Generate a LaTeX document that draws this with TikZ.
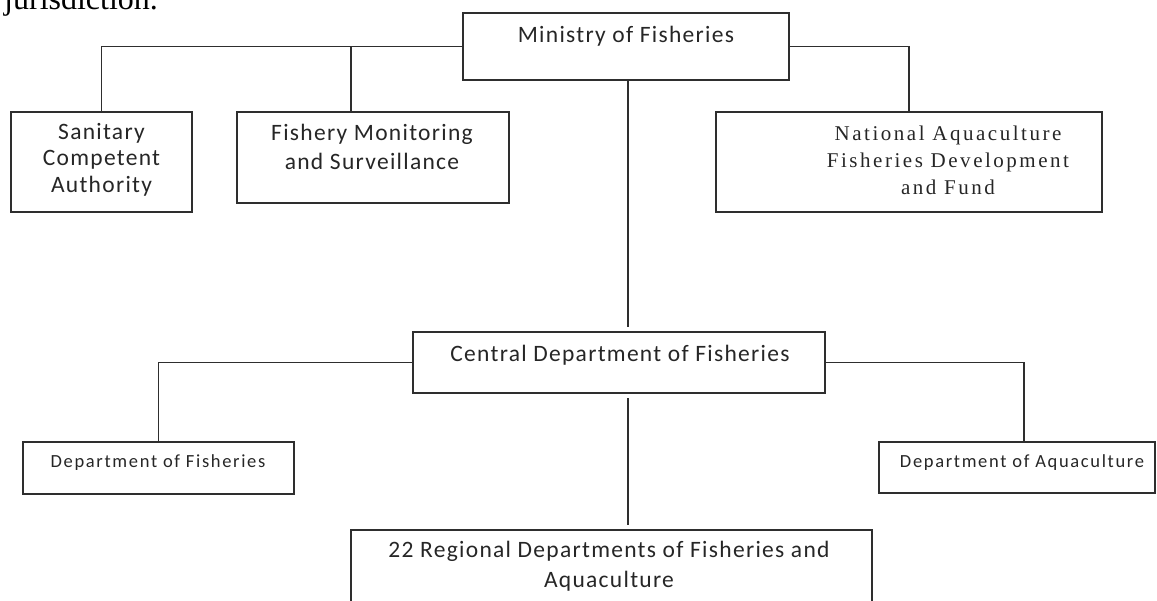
\documentclass[tikz,border=0pt]{standalone}
\usepackage{fontspec}
% Calibri-metric sans for the unit names, tracked a little wider
\newfontfamily\boxfont[LetterSpace=5.5]{Carlito}
\newfontfamily\smallboxfont[LetterSpace=9]{Carlito}
% serif face of the fund box and of the running text above the chart
\newfontfamily\fundfont[LetterSpace=12]{Liberation Serif}
\newfontfamily\bodyfont{Liberation Serif}
\definecolor{ink}{HTML}{262626}
\definecolor{rulegray}{HTML}{2E2E2E}

\begin{document}
\begin{tikzpicture}[x=1pt,y=-1pt,
  unit/.style={draw=rulegray, line width=1.8pt, rectangle, inner sep=0pt, outer sep=0pt},
  link/.style={draw=rulegray, line width=1.8pt},
  % multi-line labels sit on the baseline of their last line
  lbl/.style={text=ink, inner sep=0pt, align=center, anchor=base},
  bigtext/.style={lbl, font=\boxfont\fontsize{23.5}{#1}\selectfont},
  bigtext/.default=28,
  smalltext/.style={lbl, font=\smallboxfont\fontsize{18.5}{22}\selectfont},
  fundtext/.style={lbl, font=\fundfont\fontsize{21}{27}\selectfont}
]
\useasboundingbox (0,0) rectangle (1157,600);
\clip (0,0) rectangle (1157,600);

% tail of the sentence preceding the chart
\node[anchor=base west, inner sep=0pt, font=\bodyfont\fontsize{32}{38}\selectfont] (juris) at (4,9) {jurisdiction.};

% ---- boxes ----
\node[unit, minimum width=326pt, minimum height=67pt]  (min) at (626,46.5) {};
\node[unit, minimum width=181pt, minimum height=100pt] (san) at (101.5,162) {};
\node[unit, minimum width=272pt, minimum height=91pt]  (fish) at (373,157.5) {};
\node[unit, minimum width=386pt, minimum height=100pt] (nat) at (909,162) {};
\node[unit, minimum width=412pt, minimum height=61pt]  (cen) at (619,362.5) {};
\node[unit, minimum width=271pt, minimum height=52pt]  (dfi) at (158.5,468) {};
\node[unit, minimum width=276pt, minimum height=51pt]  (daq) at (1017,467.5) {};
\node[unit, minimum width=521pt, minimum height=82pt]  (reg) at (611.5,571) {};

% ---- labels ----
\node[bigtext] (min-t) at (626,42) {Ministry of Fisheries};
\node[bigtext=26.5] (san-t) at (101.5,192) {Sanitary\\Competent\\Authority};
\node[bigtext=29] (fish-t) at (372,169) {Fishery Monitoring\\and Surveillance};
\node[fundtext] (nat-t) at (948,194) {National Aquaculture\\Fisheries Development\\and Fund};
\node[bigtext] (cen-t) at (620,361) {Central Department of Fisheries};
\node[smalltext] (dfi-t) at (158,467) {Department of Fisheries};
\node[smalltext] (daq-t) at (1022,467) {Department of Aquaculture};
\node[bigtext=30] (reg-t) at (609,587) {22 Regional Departments of Fisheries and\\Aquaculture};

% ---- connectors ----
\coordinate (trunk) at (628,0);
\draw[link] (min.west) -| (san.north);
\draw[link] ([xshift=-22pt]fish.north) -- ([xshift=-22pt]fish.north |- min.west);
\draw[link] (min.east) -| (nat.north);
\draw[link, shorten >=5pt] (min.south -| trunk) -- (cen.north -| trunk);
\draw[link, shorten <=5pt, shorten >=5pt] (cen.south -| trunk) -- (reg.north -| trunk);
\draw[link] (cen.west) -| (dfi.north);
\draw[link] (cen.east) -| ([xshift=7pt]daq.north);
\end{tikzpicture}
\end{document}
